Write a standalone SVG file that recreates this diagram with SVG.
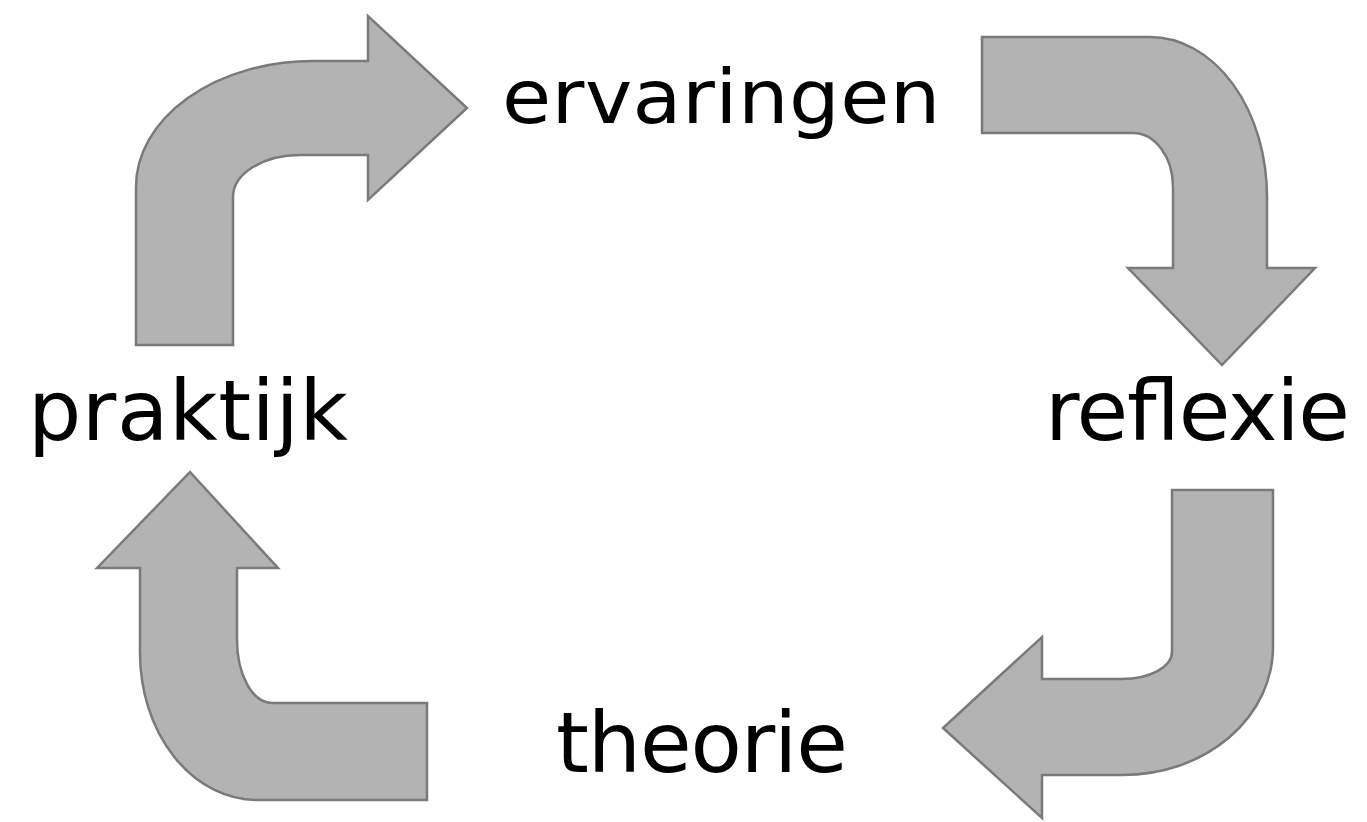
<svg xmlns="http://www.w3.org/2000/svg" width="1367" height="822" viewBox="0 0 1367 822">
<style>
.arrow{fill:#b3b3b3;stroke:#7a7a7a;stroke-width:2.5;stroke-linejoin:miter}
.lbl{font-family:"DejaVu Sans","Liberation Sans",sans-serif;fill:#000}
</style>
<rect width="1367" height="822" fill="#fff"/>
<g id="connectors">
<path id="arrow-praktijk-ervaringen" class="arrow" d="M136,345 L136,187 A177,126 0 0 1 313,61 L368,61 L368,16 L467,108 L368,200 L368,155 L300,155 A67,42 0 0 0 233,197 L233,345 Z"/>
<path id="arrow-ervaringen-reflexie" class="arrow" d="M982,37 L1150,37 A117,160 0 0 1 1267,197 L1267,268 L1315,268 L1222,365 L1128,268 L1173,268 L1173,187 A40,54 0 0 0 1133,133 L982,133 Z"/>
<path id="arrow-reflexie-theorie" class="arrow" d="M1172,490 L1273,490 L1273,647 A150,128 0 0 1 1123,775 L1042,775 L1042,818 L943,728 L1042,637 L1042,679 L1122,679 A50,27 0 0 0 1172,652 Z"/>
<path id="arrow-theorie-praktijk" class="arrow" d="M97,568 L190,472 L278,568 L237,568 L237,640 A35,63 0 0 0 272,703 L427,703 L427,800 L257,800 A117,147 0 0 1 140,653 L140,568 Z"/>
</g>
<g id="node-ervaringen"><text class="lbl" transform="translate(502,123) scale(1.08,1)" x="0" y="0" font-size="74" textLength="406" lengthAdjust="spacing">ervaringen</text></g>
<g id="node-praktijk"><text class="lbl" x="28" y="440" font-size="84" textLength="320" lengthAdjust="spacing">praktijk</text></g>
<g id="node-reflexie"><text class="lbl" x="1045" y="440" font-size="84" textLength="305" lengthAdjust="spacing">reflexie</text></g>
<g id="node-theorie"><text class="lbl" x="556" y="772" font-size="84" textLength="292" lengthAdjust="spacing">theorie</text></g>
</svg>
